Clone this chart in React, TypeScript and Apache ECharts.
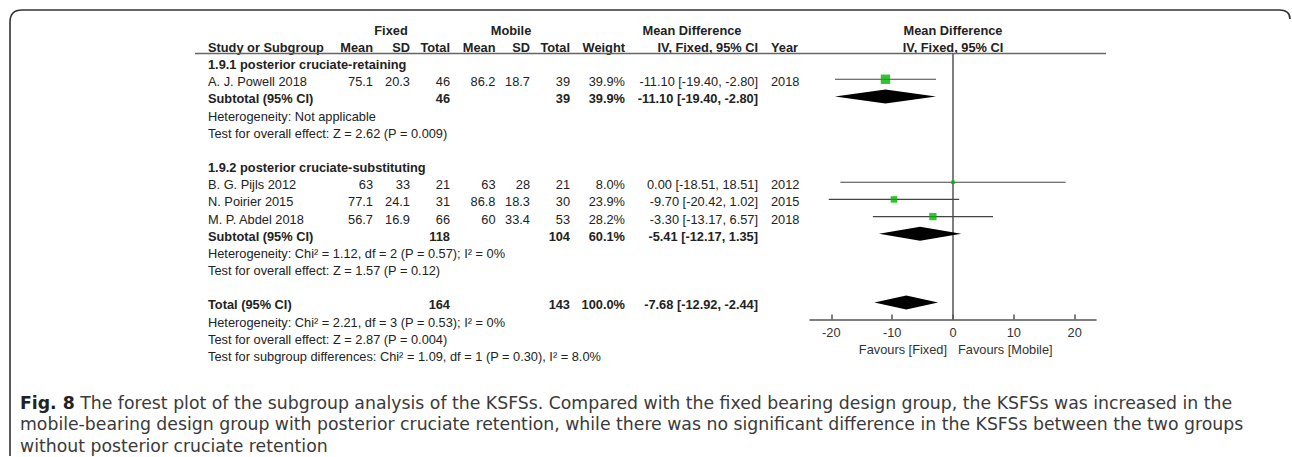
import React, { useEffect, useRef } from "react";
import * as echarts from "echarts";

// ---------- data ----------
const studyNames = ["A. J. Powell 2018", "B. G. Pijls 2012", "N. Poirier 2015", "M. P. Abdel 2018"];
const studyRows = [1, 7, 8, 9];
const fixedMean = [75.1, 63, 77.1, 56.7];
const fixedSD = [20.3, 33, 24.1, 16.9];
const fixedTotal = [46, 21, 31, 66];
const mobileMean = [86.2, 63, 86.8, 60];
const mobileSD = [18.7, 28, 18.3, 33.4];
const mobileTotal = [39, 21, 30, 53];
const studyWeight = [39.9, 8.0, 23.9, 28.2];
const studyMD = [-11.1, 0.0, -9.7, -3.3];
const studyLo = [-19.4, -18.51, -20.42, -13.17];
const studyHi = [-2.8, 18.51, 1.02, 6.57];
const studyYear = [2018, 2012, 2015, 2018];

const pooledLabels = ["Subtotal (95% CI)", "Subtotal (95% CI)", "Total (95% CI)"];
const pooledRows = [2, 10, 14];
const pooledFixedTotal = [46, 118, 164];
const pooledMobileTotal = [39, 104, 143];
const pooledWeight = [39.9, 60.1, 100.0];
const pooledMD = [-11.1, -5.41, -7.68];
const pooledLo = [-19.4, -12.17, -12.92];
const pooledHi = [-2.8, 1.35, -2.44];

const subgroupTitles = ["1.9.1 posterior cruciate-retaining", "1.9.2 posterior cruciate-substituting"];
const subgroupRows = [0, 6];

const noteTexts = [
  "Heterogeneity: Not applicable",
  "Test for overall effect: Z = 2.62 (P = 0.009)",
  "Heterogeneity: Chi² = 1.12, df = 2 (P = 0.57); I² = 0%",
  "Test for overall effect: Z = 1.57 (P = 0.12)",
  "Heterogeneity: Chi² = 2.21, df = 3 (P = 0.53); I² = 0%",
  "Test for overall effect: Z = 2.87 (P = 0.004)",
  "Test for subgroup differences: Chi² = 1.09, df = 1 (P = 0.30), I² = 8.0%",
];
const noteRows = [3, 4, 11, 12, 15, 16, 17];

const axisTicks = [-20, -10, 0, 10, 20];
const axisMin = -23.5;
const axisMax = 23.5;
const rowMin = -0.5;
const rowMax = 15;

const favoursLeft = "Favours [Fixed]";
const favoursRight = "Favours [Mobile]";

const captionLines = [
  "The forest plot of the subgroup analysis of the KSFSs. Compared with the fixed bearing design group, the KSFSs was increased in the",
  "mobile-bearing design group with posterior cruciate retention, while there was no significant difference in the KSFSs between the two groups",
  "without posterior cruciate retention",
];
const captionLabel = "Fig. 8";

// ---------- frame shape ----------
let frameRegistered = false;
function registerFrame() {
  if (frameRegistered) return;
  frameRegistered = true;
  echarts.graphic.registerShape(
    "figframe",
    echarts.graphic.extendPath("M10 456 L10 22 Q10 10 22 10 L1279 10 Q1290 10 1290 19", {}) as any
  );
}

const TABLE_FONT = "'Liberation Sans', Arial, sans-serif";
const TABLE_SIZE = 12.8;
const TEXT_COLOR = "#222";

export default function App() {
  const ref = useRef<HTMLDivElement>(null);

  useEffect(() => {
    const el = ref.current!;
    registerFrame();
    const chart = echarts.init(el, null, { renderer: "svg" });

    const ciData = studyRows.map((r, i) => [studyLo[i], studyHi[i], r]);
    const squareData = studyRows.map((r, i) => ({
      value: [studyMD[i], r],
      symbolSize: 2.2 + studyWeight[i] * 0.18,
    }));
    const diamondData = pooledRows.map((r, i) => [pooledLo[i], pooledHi[i], pooledMD[i], r]);

    chart.setOption({
      animation: false,
      grid: { left: 810, right: 196, top: 53.5, bottom: 137.4 },
      xAxis: {
        type: "value",
        min: axisMin,
        max: axisMax,
        position: "bottom",
        splitLine: { show: false },
        axisLine: { show: true, onZero: false, lineStyle: { color: "#555", width: 1.5 } },
        axisTick: {
          show: true,
          inside: true,
          length: 5,
          customValues: axisTicks,
          lineStyle: { color: "#555", width: 1.5 },
        },
        axisLabel: {
          customValues: axisTicks,
          color: "#333",
          fontSize: TABLE_SIZE,
          fontFamily: TABLE_FONT,
          margin: 6,
          formatter: (v: number) => String(v),
        },
      },
      yAxis: {
        type: "value",
        min: rowMin,
        max: rowMax,
        inverse: true,
        show: false,
        splitLine: { show: false },
      },
      series: [
        {
          type: "line",
          data: [
            [0, rowMin],
            [0, rowMax],
          ],
          symbol: "none",
          lineStyle: { color: "#555", width: 1.5 },
          z: 1,
          silent: true,
        },
        {
          type: "custom",
          data: ciData,
          z: 2,
          renderItem: (params: any, api: any) => {
            const a = api.coord([api.value(0), api.value(2)]);
            const b = api.coord([api.value(1), api.value(2)]);
            return {
              type: "line",
              shape: { x1: a[0], y1: a[1], x2: b[0], y2: b[1] },
              style: { stroke: "#444", lineWidth: 1.2 },
            };
          },
        },
        {
          type: "scatter",
          symbol: "rect",
          data: squareData,
          itemStyle: { color: "#00b400" },
          z: 3,
        },
        {
          type: "custom",
          data: diamondData,
          z: 3,
          renderItem: (params: any, api: any) => {
            const row = api.value(3);
            const l = api.coord([api.value(0), row]);
            const r = api.coord([api.value(1), row]);
            const m = api.coord([api.value(2), row]);
            const h = 7;
            return {
              type: "polygon",
              shape: {
                points: [
                  [l[0], l[1]],
                  [m[0], m[1] - h],
                  [r[0], r[1]],
                  [m[0], m[1] + h],
                ],
              },
              style: { fill: "#000" },
            };
          },
        },
      ],
    });

    const py = (row: number) => (chart.convertToPixel({ yAxisIndex: 0 } as any, row) as number) + 2.5;
    const px = (v: number) => chart.convertToPixel({ xAxisIndex: 0 } as any, v) as number;

    const g: any[] = [];
    const txt = (
      text: string,
      x: number,
      y: number,
      align: string,
      bold = false,
      size = TABLE_SIZE,
      fill = TEXT_COLOR
    ) => {
      g.push({
        type: "text",
        x,
        y,
        silent: true,
        style: {
          text,
          fill,
          fontSize: size,
          fontFamily: TABLE_FONT,
          fontWeight: bold ? "bold" : "normal",
          align,
          verticalAlign: "middle",
        },
      });
    };

    const col = {
      study: 208,
      fMean: 373,
      fSD: 410,
      fTotal: 450,
      mMean: 495.5,
      mSD: 530,
      mTotal: 570,
      weight: 625,
      ci: 758,
      year: 771,
    };

    // header rows
    const h1 = py(-2);
    const h2 = py(-1);
    txt("Fixed", 391, h1, "center", true);
    txt("Mobile", 511, h1, "center", true);
    txt("Mean Difference", 692, h1, "center", true);
    txt("Mean Difference", px(0), h1, "center", true);
    txt("Study or Subgroup", col.study, h2, "left", true);
    txt("Mean", col.fMean, h2, "right", true);
    txt("SD", col.fSD, h2, "right", true);
    txt("Total", col.fTotal, h2, "right", true);
    txt("Mean", col.mMean, h2, "right", true);
    txt("SD", col.mSD, h2, "right", true);
    txt("Total", col.mTotal, h2, "right", true);
    txt("Weight", col.weight, h2, "right", true);
    txt("IV, Fixed, 95% CI", col.ci, h2, "right", true);
    txt("Year", col.year, h2, "left", true);
    txt("IV, Fixed, 95% CI", px(0), h2, "center", true);

    // header underline
    const lineY = chart.convertToPixel({ yAxisIndex: 0 } as any, rowMin) as number;
    g.push({
      type: "line",
      silent: true,
      shape: { x1: 195, y1: lineY, x2: 1106, y2: lineY },
      style: { stroke: "#666", lineWidth: 1.5 },
    });

    subgroupRows.forEach((r, i) => txt(subgroupTitles[i], col.study, py(r), "left", true));

    studyRows.forEach((r, i) => {
      const y = py(r);
      txt(studyNames[i], col.study, y, "left");
      txt(String(fixedMean[i]), col.fMean, y, "right");
      txt(String(fixedSD[i]), col.fSD, y, "right");
      txt(String(fixedTotal[i]), col.fTotal, y, "right");
      txt(String(mobileMean[i]), col.mMean, y, "right");
      txt(String(mobileSD[i]), col.mSD, y, "right");
      txt(String(mobileTotal[i]), col.mTotal, y, "right");
      txt(studyWeight[i].toFixed(1) + "%", col.weight, y, "right");
      txt(
        `${studyMD[i].toFixed(2)} [${studyLo[i].toFixed(2)}, ${studyHi[i].toFixed(2)}]`,
        col.ci,
        y,
        "right"
      );
      txt(String(studyYear[i]), col.year, y, "left");
    });

    pooledRows.forEach((r, i) => {
      const y = py(r);
      txt(pooledLabels[i], col.study, y, "left", true);
      txt(String(pooledFixedTotal[i]), col.fTotal, y, "right", true);
      txt(String(pooledMobileTotal[i]), col.mTotal, y, "right", true);
      txt(pooledWeight[i].toFixed(1) + "%", col.weight, y, "right", true);
      txt(
        `${pooledMD[i].toFixed(2)} [${pooledLo[i].toFixed(2)}, ${pooledHi[i].toFixed(2)}]`,
        col.ci,
        y,
        "right",
        true
      );
    });

    noteRows.forEach((r, i) => txt(noteTexts[i], col.study, py(r), "left"));

    // favours labels
    const favY = (chart.convertToPixel({ yAxisIndex: 0 } as any, rowMax) as number) + 30;
    txt(favoursLeft, px(0) - 6, favY, "right", false, TABLE_SIZE, "#333");
    txt(favoursRight, px(0) + 5, favY, "left", false, TABLE_SIZE, "#333");

    // frame
    g.push({
      type: "figframe",
      x: 0,
      y: 0,
      silent: true,
      style: { fill: "none", stroke: "#333", lineWidth: 1.6 },
    });

    chart.setOption({ graphic: g });

    return () => chart.dispose();
  }, []);

  return (
    <div style={{ position: "fixed", left: 0, top: 0, width: 1292, height: 457, background: "#fff" }}>
      <div ref={ref} style={{ position: "absolute", left: 0, top: 0, width: 1292, height: 457 }} />
      <div
        style={{
          position: "absolute",
          left: 20,
          top: 392.5,
          fontFamily: "'DejaVu Sans', sans-serif",
          fontSize: 17.3,
          lineHeight: "21.5px",
          color: "#3a3a3a",
          whiteSpace: "pre",
        }}
      >
        <b style={{ color: "#222" }}>{captionLabel}</b> {captionLines[0]}
        {"\n"}
        {captionLines[1]}
        {"\n"}
        {captionLines[2]}
      </div>
    </div>
  );
}
